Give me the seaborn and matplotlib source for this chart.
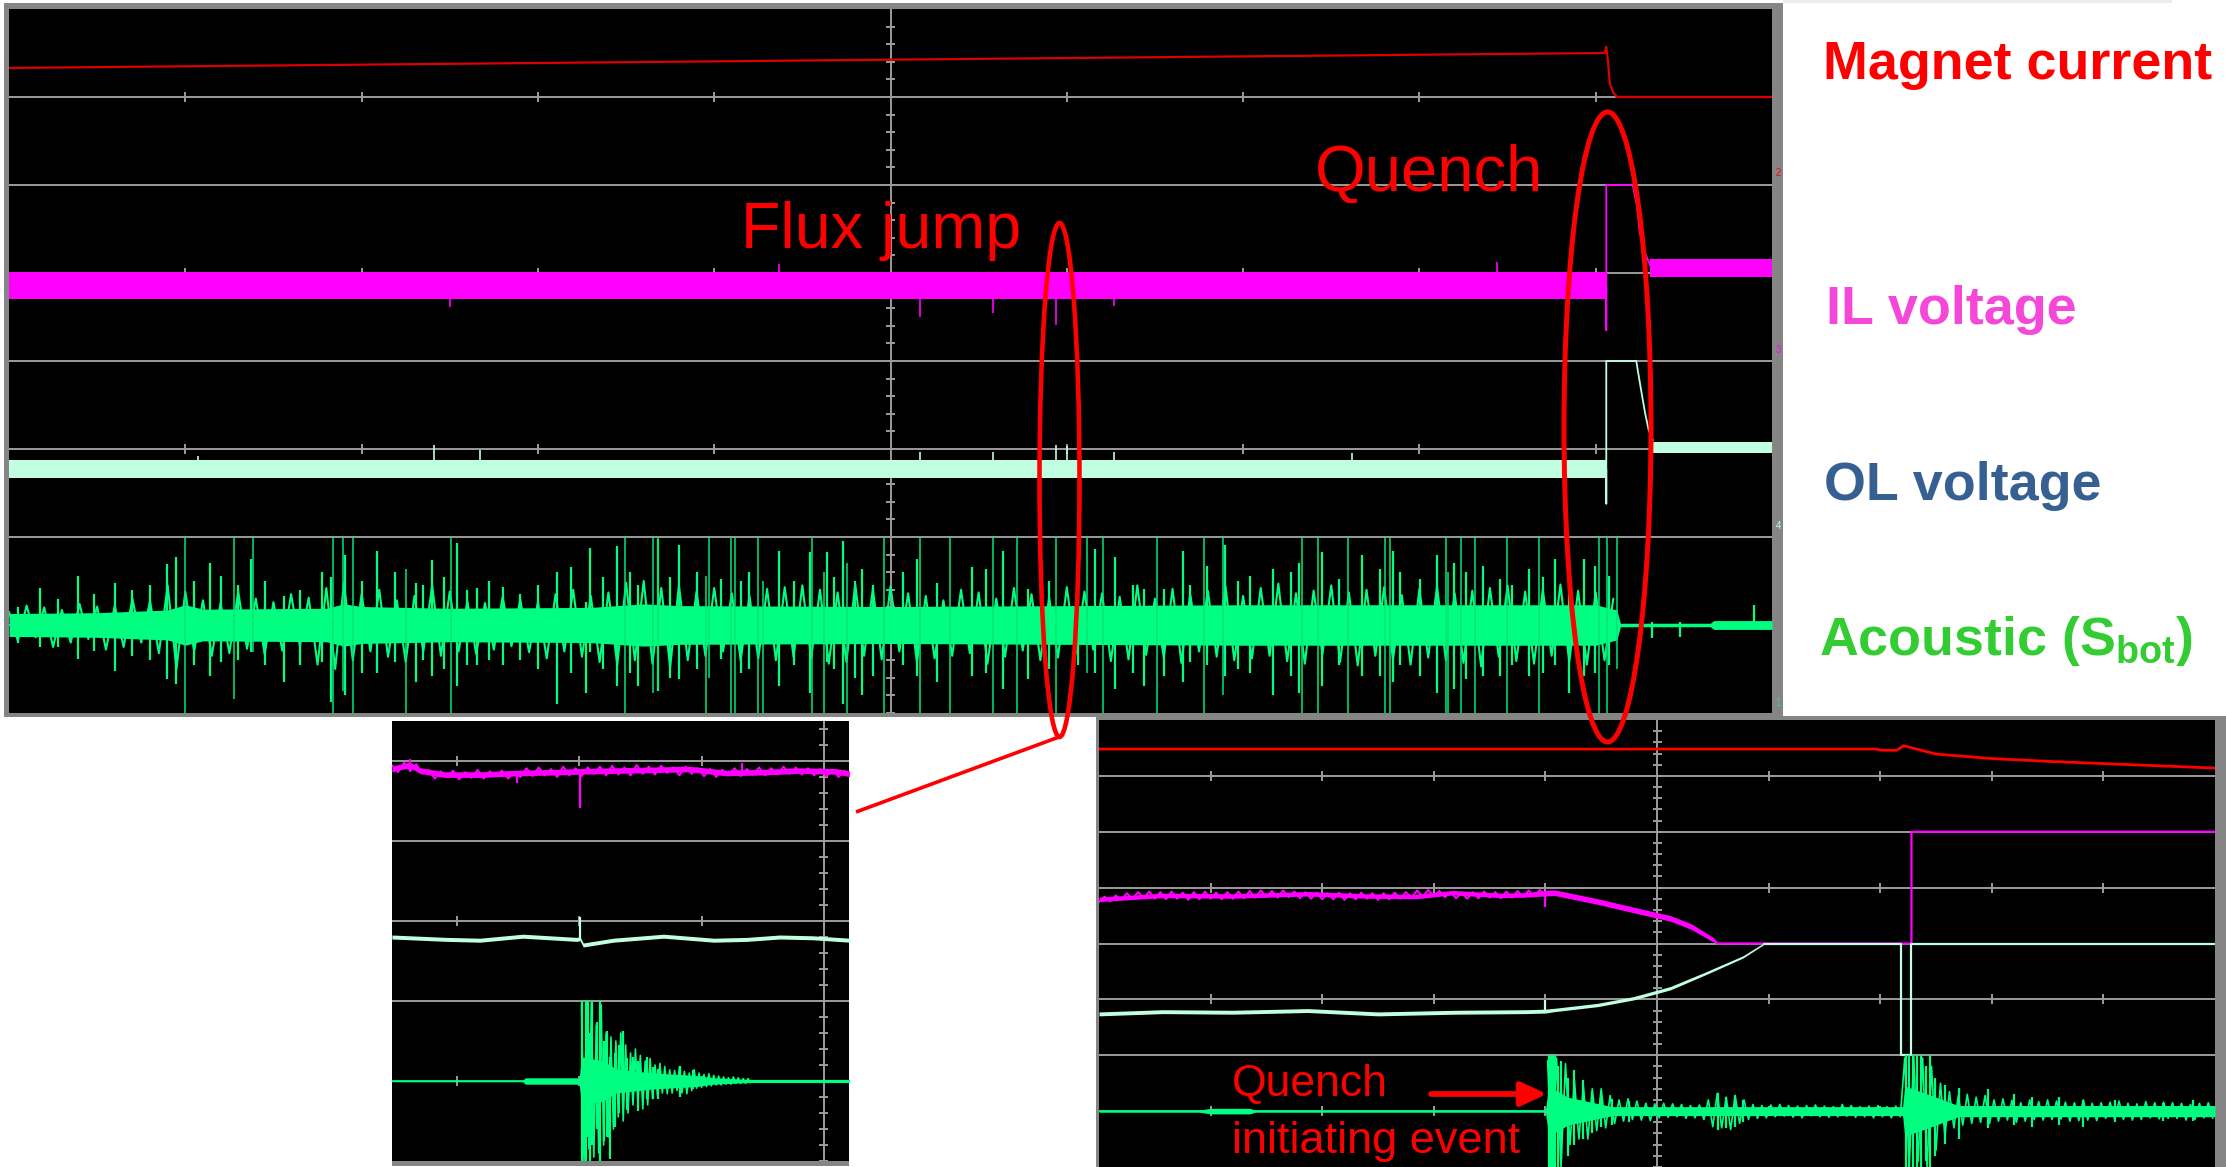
import matplotlib
matplotlib.use("Agg")
import numpy as np
import matplotlib.pyplot as plt
from matplotlib.patches import Rectangle, Ellipse
import seaborn as sns

sns.set_theme(style="white")
plt.rcParams["font.family"] = ["Liberation Sans", "DejaVu Sans"]
plt.rcParams["mathtext.fontset"] = "custom"
plt.rcParams["mathtext.rm"] = "Liberation Sans:bold"
plt.rcParams["mathtext.bf"] = "Liberation Sans:bold"

W, H = 2226, 1167

# ---------------------------------------------------------------
# Main record (10 x 8 divisions)
# ---------------------------------------------------------------
main_current_x = [0.00, 9.05, 9.06, 9.07, 9.08, 9.10, 9.12, 10.00]
main_current_y = [7.33, 7.50, 7.57, 7.40, 7.15, 7.05, 7.00, 7.00]

main_il_band_x = [0.00, 9.06]
main_il_band_lo = [4.70, 4.70]
main_il_band_hi = [5.01, 5.01]
main_il_quench_x = [9.06, 9.06, 9.06, 9.21, 9.235, 9.25, 9.28, 9.31]
main_il_quench_y = [4.85, 4.35, 6.00, 6.00, 5.75, 5.45, 5.23, 5.08]
main_il_after_x = [9.31, 10.00]
main_il_after_lo = [4.95, 4.95]
main_il_after_hi = [5.16, 5.16]
main_il_spike_x = [2.50, 4.37, 5.17, 5.58, 5.94, 6.27, 8.44]
main_il_spike_y = [4.61, 5.10, 4.50, 4.54, 4.41, 4.62, 5.12]

main_ol_band_x = [0.00, 9.06]
main_ol_band_lo = [2.67, 2.67]
main_ol_band_hi = [2.875, 2.875]
main_ol_quench_x = [9.06, 9.06, 9.06, 9.23, 9.26, 9.28, 9.30, 9.325]
main_ol_quench_y = [2.77, 2.38, 4.00, 4.00, 3.64, 3.41, 3.22, 3.10]
main_ol_after_x = [9.325, 10.00]
main_ol_after_lo = [2.96, 2.96]
main_ol_after_hi = [3.08, 3.08]
main_ol_spike_x = [1.07, 2.41, 2.67, 5.17, 5.58, 5.94, 6.00, 6.27, 7.62]
main_ol_spike_y = [2.92, 3.05, 2.99, 2.97, 2.97, 3.05, 3.03, 2.97, 2.95]

main_ac_core_x = [0.0, 0.5, 0.9, 1.0, 1.1, 1.8, 1.9, 2.0, 2.5, 3.3, 3.6, 3.8, 5.0,
                  6.0, 7.0, 8.0, 9.0, 9.12, 9.14, 9.65, 9.67, 10.0]
main_ac_core_amp = [0.13, 0.14, 0.17, 0.23, 0.18, 0.19, 0.24, 0.21, 0.19, 0.20, 0.24,
                    0.22, 0.21, 0.22, 0.23, 0.23, 0.23, 0.17, 0.02, 0.02, 0.05, 0.05]

# acoustic samples, one every 0.05 div from 0.00 to 9.10 (offset from trace baseline)
main_ac_wave_start, main_ac_wave_step = 0.0, 0.05
main_ac_wave = [
    0.15, -0.18, 0.22, -0.14, 0.20, -0.25, 0.17, -0.20, 0.24, -0.16, 0.21,
    -0.28, 0.22, -0.25, 0.30, -0.20, 0.27, -0.32,
    0.45, -0.50, 0.38,
    -0.30, 0.28, -0.35, 0.25, -0.32, 0.38, -0.27, 0.30, -0.33, 0.26, -0.29, 0.35, -0.24, 0.31,
    -0.45, 0.42, -0.50, 0.48, -0.40,
    0.35, -0.30, 0.40, -0.36, 0.28, -0.42, 0.33, -0.30, 0.45, -0.35, 0.38,
    -0.30, 0.27, -0.33, 0.25, -0.28, 0.32, -0.24, 0.29, -0.31, 0.26,
    -0.38, 0.35, -0.30, 0.40, -0.36, 0.33, -0.42, 0.37,
    -0.45, 0.48, -0.40, 0.50, -0.44, 0.42, -0.48, 0.45, -0.40,
    0.38, -0.35, 0.42, -0.30, 0.36, -0.40, 0.33, -0.38, 0.41,
    -0.40, 0.43, -0.36, 0.45, -0.38, 0.40, -0.44, 0.37, -0.42, 0.46, -0.35, 0.41, -0.39, 0.44,
    -0.30, 0.36, -0.42, 0.33, -0.38, 0.28, -0.35, 0.40, -0.32, 0.37,
    -0.44, 0.30, -0.36, 0.42, -0.29, 0.35, -0.40, 0.31, -0.37, 0.43,
    -0.33, 0.38, -0.28, 0.36, -0.41, 0.32, -0.39, 0.45, -0.34, 0.30,
    -0.37, 0.41, -0.43, 0.35, -0.30, 0.39, -0.36, 0.44, -0.40, 0.33,
    -0.38, 0.42, -0.35, 0.47, -0.41, 0.36, -0.44, 0.39, -0.33, 0.45,
    -0.42, 0.37, -0.46, 0.40, -0.35, 0.43, -0.39, 0.34, -0.45, 0.41,
    -0.37, 0.44, -0.40, 0.36, -0.43, 0.39, -0.47, 0.42, -0.36, 0.45,
    -0.41, 0.38, -0.44, 0.40, -0.35, 0.46, -0.42, 0.39, -0.45, 0.37,
    -0.40, 0.30,
]

# saturated hits of the acoustic channel
main_ac_clip_x = [0.997, 1.274, 1.385, 1.838, 1.893, 1.951, 2.254, 2.505, 3.495, 3.655,
                  3.684, 3.954, 3.970, 4.094, 4.117, 4.247, 4.279, 4.553, 4.625, 4.755,
                  4.963, 5.168, 5.337, 5.579, 5.715, 5.940, 6.116, 6.204, 6.510, 6.781,
                  6.888, 7.335, 7.423, 7.595, 7.807, 7.836, 8.149, 8.165, 8.234, 8.318,
                  8.498, 8.677, 9.019, 9.065, 9.120]
main_ac_clip_hi = [2.0, 2.0, 2.0, 2.0, 2.0, 2.0, 1.64, 2.0, 2.0, 2.0,
                   2.0, 1.56, 2.0, 2.0, 2.0, 2.0, 1.50, 2.0, 1.60, 1.70,
                   2.0, 2.0, 2.0, 2.0, 2.0, 2.0, 2.0, 2.0, 2.0, 2.0,
                   2.0, 2.0, 2.0, 2.0, 2.0, 2.0, 2.0, 1.60, 2.0, 2.0,
                   2.0, 2.0, 2.0, 2.0, 2.0]
main_ac_clip_lo = [0.0, 0.16, 0.69, 0.0, 0.25, 0.0, 0.0, 0.0, 0.0, 0.23,
                   0.30, 0.0, 0.40, 0.0, 0.0, 0.0, 0.0, 0.0, 0.0, 0.0,
                   0.0, 0.0, 0.0, 0.0, 0.0, 0.0, 0.45, 0.0, 0.0, 0.0,
                   0.20, 0.0, 0.0, 0.0, 0.0, 0.0, 0.0, 0.0, 0.0, 0.0,
                   0.0, 0.0, 0.0, 0.0, 0.50]

main_ac_spike_x = [0.05, 0.177, 0.28, 0.389, 0.48, 0.601, 0.70, 0.80, 0.894, 0.949,
                   1.05, 1.138, 1.203, 1.30, 1.373, 1.45, 1.562, 1.65, 1.773, 1.826,
                   1.904, 2.00, 2.086, 2.19, 2.311, 2.35, 2.399, 2.47, 2.539, 2.60,
                   2.653, 2.72, 2.80, 2.90, 3.00, 3.109, 3.19, 3.272, 3.295, 3.37,
                   3.451, 3.52, 3.565, 3.679, 3.75, 3.803, 3.90, 4.038, 4.15, 4.20,
                   4.367, 4.45, 4.543, 4.64, 4.68, 4.728, 4.80, 4.836, 4.901,
                   5.07, 5.152, 5.266, 5.461, 5.543, 5.64, 5.781, 5.90, 6.064, 6.162,
                   6.276, 6.374, 6.439, 6.553, 6.66, 6.699, 6.797, 6.895, 6.97, 7.041,
                   7.172, 7.269, 7.318, 7.449, 7.546, 7.677, 7.774, 7.85, 7.888, 8.002,
                   8.10, 8.198, 8.263, 8.361, 8.459, 8.524, 8.622, 8.70, 8.768, 8.85,
                   8.931, 8.996, 9.078, 9.32, 9.48, 9.90]
main_ac_spike_hi = [1.20, 1.42, 1.30, 1.56, 1.35, 1.48, 1.40, 1.45, 1.69, 1.77,
                    1.50, 1.71, 1.56, 1.45, 1.75, 1.50, 1.33, 1.40, 1.60, 1.55,
                    1.79, 1.50, 1.84, 1.60, 1.48, 1.45, 1.74, 1.55, 1.93, 1.40,
                    1.42, 1.50, 1.43, 1.35, 1.45, 1.60, 1.66, 1.26, 1.87, 1.55,
                    1.90, 1.60, 1.45, 1.98, 1.55, 1.91, 1.60, 1.52, 1.50, 1.60,
                    1.84, 1.50, 1.83, 1.83, 1.55, 1.95, 1.50, 1.64, 1.45,
                    1.60, 1.75, 1.48, 1.66, 1.64, 1.84, 1.41, 1.50, 1.45, 1.86,
                    1.77, 1.45, 1.41, 1.41, 1.84, 1.45, 1.67, 1.91, 1.50, 1.56,
                    1.64, 1.60, 1.71, 1.83, 1.52, 1.79, 1.64, 1.84, 1.60, 1.52,
                    1.79, 1.71, 1.60, 1.67, 1.52, 1.45, 1.64, 1.55, 1.75, 1.83,
                    1.75, 1.67, 1.56, 1.03, 1.03, 1.23]
main_ac_spike_lo = [0.80, 0.75, 0.75, 0.61, 0.70, 0.48, 0.65, 0.60, 0.39, 0.33,
                    0.55, 0.42, 0.58, 0.60, 0.69, 0.55, 0.35, 0.55, 0.58, 0.13,
                    0.20, 0.45, 0.46, 0.58, 0.35, 0.60, 0.42, 0.50, 0.31, 0.55,
                    0.54, 0.60, 0.54, 0.60, 0.50, 0.10, 0.46, 0.23, 0.69, 0.50,
                    0.31, 0.45, 0.31, 0.25, 0.40, 0.39, 0.50, 0.61, 0.45, 0.50,
                    0.31, 0.55, 0.23, 0.58, 0.50, 0.10, 0.40, 0.20, 0.42,
                    0.54, 0.42, 0.35, 0.42, 0.46, 0.27, 0.39, 0.50, 0.54, 0.46,
                    0.27, 0.46, 0.31, 0.42, 0.35, 0.58, 0.54, 0.42, 0.50, 0.46,
                    0.20, 0.42, 0.23, 0.31, 0.54, 0.42, 0.42, 0.35, 0.54, 0.42,
                    0.23, 0.27, 0.39, 0.42, 0.42, 0.54, 0.42, 0.45, 0.54, 0.23,
                    0.42, 0.46, 0.54, 0.85, 0.86, 0.97]

# ---------------------------------------------------------------
# Flux-jump detail (left inset)
# ---------------------------------------------------------------
fj_il_x = [0.47, 0.55, 0.62, 0.70, 0.90, 1.20, 1.50, 1.80, 2.00, 2.30, 2.60, 2.90,
           3.20, 3.50, 3.80, 4.10, 4.21]
fj_il_y = [4.90, 4.93, 4.95, 4.88, 4.83, 4.83, 4.85, 4.86, 4.87, 4.88, 4.89, 4.90,
           4.85, 4.86, 4.88, 4.87, 4.84]
# IL samples, one every 0.05 div from 0.47
fj_il_wave_start, fj_il_wave_step = 0.47, 0.05
fj_il_wave = [
    4.95, 4.86, 4.98, 4.88, 4.96, 4.84,
    4.89, 4.78, 4.87, 4.80, 4.88, 4.77, 4.86, 4.79, 4.89, 4.78, 4.87, 4.81, 4.88, 4.78, 4.86,
    4.80, 4.91, 4.81, 4.92, 4.82, 4.90, 4.80, 4.93, 4.82, 4.91, 4.81, 4.92, 4.84, 4.93, 4.82,
    4.94, 4.83, 4.92, 4.82, 4.95, 4.84, 4.93, 4.83, 4.94, 4.85, 4.92, 4.82, 4.93, 4.84, 4.91,
    4.81, 4.90, 4.80, 4.89, 4.82, 4.91, 4.81, 4.90, 4.83, 4.92, 4.82, 4.91, 4.83, 4.93, 4.84,
    4.92, 4.83, 4.91, 4.82, 4.90, 4.81, 4.89, 4.80, 4.88,
]
fj_il_spike_x = [0.62, 1.49, 2.01, 3.33]
fj_il_spike_y = [5.02, 4.73, 4.41, 4.97]

fj_ol_x = [0.47, 0.92, 1.19, 1.54, 1.98, 2.007, 2.034, 2.28, 2.69, 3.10, 3.37, 3.64,
           3.91, 4.21]
fj_ol_y = [2.80, 2.77, 2.76, 2.81, 2.77, 2.78, 2.70, 2.76, 2.81, 2.76, 2.77, 2.80,
           2.79, 2.76]
fj_ol_spike_x = [2.007]
fj_ol_spike_y = [3.05]

fj_ac_core_x = [0.47, 1.54, 1.56, 2.00, 2.02, 2.20, 2.30, 2.60, 2.95, 3.10, 3.37, 4.21]
fj_ac_core_amp = [0.01, 0.01, 0.04, 0.04, 0.30, 0.25, 0.15, 0.10, 0.07, 0.04, 0.02, 0.02]
# acoustic samples, one every 0.02 div from 2.02 to 3.40
fj_ac_wave_start, fj_ac_wave_step = 2.02, 0.02
fj_ac_wave = [
    0.95, -1.00, 0.90, -0.85, 0.98, -0.95, 0.70, -0.90, 0.95, -0.80,
    0.60, -0.70, 0.55, -0.60, 0.50, -0.45, 0.60, -0.50, 0.45, -0.40,
    0.35, -0.30, 0.40, -0.28, 0.32, -0.35, 0.25, -0.30, 0.28, -0.22,
    0.20, -0.18, 0.22, -0.15, 0.18, -0.16, 0.14, -0.15, 0.13, -0.12,
    0.18, -0.15, 0.12, -0.16, 0.10, -0.12, 0.14, -0.09, 0.10, -0.08,
    0.08, -0.07, 0.09, -0.06, 0.07, -0.05, 0.06, -0.05, 0.05, -0.04,
    0.04, -0.04, 0.05, -0.03, 0.04, -0.03, 0.03, -0.03, 0.03, -0.02,
]
fj_ac_spike_x = [2.021, 2.054, 2.070, 2.089, 2.108, 2.144, 2.171, 2.200, 2.225, 2.252,
                 2.293, 2.329, 2.356, 2.389, 2.443, 2.484, 2.552, 2.606, 2.647, 2.824,
                 2.933]
fj_ac_spike_hi = [2.00, 2.00, 2.00, 1.60, 2.00, 1.74, 2.00, 1.50, 1.62, 1.30,
                  1.35, 1.45, 1.62, 1.29, 1.30, 1.25, 1.30, 1.18, 1.15, 1.19,
                  1.14]
fj_ac_spike_lo = [0.00, 0.00, 0.30, 0.00, 0.20, 0.40, 0.00, 0.25, 0.30, 0.02,
                  0.42, 0.60, 0.68, 0.64, 0.77, 0.63, 0.77, 0.78, 0.78, 0.80,
                  0.90]

# ---------------------------------------------------------------
# Quench detail (right inset, 10 x 8 divisions)
# ---------------------------------------------------------------
qd_current_x = [0.00, 6.97, 7.00, 7.15, 7.21, 7.50, 8.00, 8.50, 9.00, 9.50, 10.00]
qd_current_y = [7.48, 7.48, 7.46, 7.46, 7.54, 7.39, 7.31, 7.26, 7.22, 7.18, 7.14]

qd_il_x = [0.00, 0.57, 1.20, 1.87, 2.40, 2.84, 3.17, 3.60, 3.82, 4.00, 4.08, 4.47,
           4.79, 5.12, 5.31, 5.51]
qd_il_y = [4.79, 4.86, 4.85, 4.89, 4.85, 4.84, 4.91, 4.86, 4.87, 4.90, 4.91, 4.75,
           4.60, 4.45, 4.30, 4.06]
qd_il_half = [0.04, 0.04, 0.04, 0.04, 0.04, 0.04, 0.04, 0.04, 0.04, 0.05, 0.05, 0.05,
              0.05, 0.05, 0.05, 0.04]
# IL samples, one every 0.05 div from 0.00 to 4.00
qd_il_wave_start, qd_il_wave_step = 0.0, 0.05
qd_il_wave = [
    4.74, 4.84, 4.75, 4.86, 4.78, 4.90, 4.80, 4.92, 4.81, 4.93, 4.80,
    4.92, 4.79, 4.93, 4.80, 4.91, 4.78, 4.92, 4.79, 4.93, 4.80,
    4.91, 4.79, 4.92, 4.80, 4.93, 4.81, 4.94, 4.82, 4.95, 4.83,
    4.94, 4.82, 4.95, 4.83, 4.93, 4.81, 4.92, 4.80, 4.91, 4.79,
    4.90, 4.79, 4.91, 4.78, 4.90, 4.79, 4.91, 4.80, 4.90, 4.78,
    4.90, 4.79, 4.91, 4.80, 4.92, 4.82, 4.95, 4.84, 4.96, 4.85,
    4.94, 4.83, 4.92, 4.81, 4.91, 4.80, 4.92, 4.81, 4.93, 4.82,
    4.92, 4.81, 4.93, 4.82, 4.94, 4.83, 4.95, 4.84, 4.96, 4.85,
]
qd_il_step_x = [5.51, 5.54, 7.28, 7.28, 10.00]
qd_il_step_y = [4.06, 4.00, 4.00, 6.00, 6.00]
qd_il_spike_x = [4.00]
qd_il_spike_y = [4.66]

qd_ol_x = [0.00, 0.57, 1.20, 1.87, 2.50, 3.20, 3.82, 4.00, 4.08, 4.47, 4.79, 5.12,
           5.44, 5.77, 5.96]
qd_ol_y = [2.74, 2.78, 2.77, 2.80, 2.74, 2.77, 2.78, 2.79, 2.81, 2.90, 3.02, 3.20,
           3.47, 3.76, 4.00]
qd_ol_half = [0.035, 0.035, 0.035, 0.035, 0.035, 0.035, 0.035, 0.035, 0.03, 0.03,
              0.03, 0.03, 0.025, 0.02, 0.015]
qd_ol_step_x = [5.96, 7.19, 7.19, 7.28, 7.28, 10.00]
qd_ol_step_y = [4.00, 4.00, 2.00, 2.00, 4.00, 4.00]
qd_ol_spike_x = [4.00]
qd_ol_spike_y = [2.99]

qd_ac_core_x = [0.0, 0.9, 1.0, 1.35, 1.4, 4.0, 4.03, 4.2, 4.6, 7.2, 7.22, 7.5, 7.7, 10.0]
qd_ac_core_amp = [0.02, 0.02, 0.05, 0.05, 0.02, 0.02, 0.45, 0.25, 0.08, 0.08, 0.45,
                  0.25, 0.10, 0.10]
# acoustic samples, one every 0.04 div from 4.02 to 9.98
qd_ac_wave_start, qd_ac_wave_step = 4.02, 0.04
qd_ac_wave = [
    0.90, -1.00, 0.95, -1.00, 0.85,
    -0.60, 0.55, -0.50, 0.45, -0.50, 0.40, -0.35, 0.40, -0.30, 0.28,
    -0.22, 0.20, -0.18, 0.22, -0.15, 0.18, -0.16, 0.14, -0.17, 0.13,
    -0.12, 0.14, -0.11, 0.13, -0.10, 0.12, -0.13, 0.10, -0.12, 0.11,
    -0.15, 0.20, -0.28, 0.32, -0.30, 0.25, -0.33, 0.28, -0.22, 0.20,
    -0.15, 0.12, -0.13, 0.10, -0.12, 0.11, -0.10, 0.12, -0.09, 0.10,
    -0.11, 0.09, -0.12, 0.10, -0.08, 0.11, -0.10, 0.09, -0.11, 0.08,
    -0.10, 0.12, -0.09, 0.10, -0.11, 0.08, -0.10, 0.09, -0.12, 0.10,
    -0.10, 0.08, -0.12, 0.09, -0.10,
    0.95, -1.00, 1.00, -0.90, 0.95, -1.00, 0.80, -0.70, 0.50, -0.45,
    0.35, -0.30, 0.28, -0.25, 0.30, -0.22, 0.25, -0.20, 0.28, -0.22,
    0.20, -0.18, 0.22, -0.16, 0.19, -0.20, 0.15, -0.18, 0.20, -0.15,
    0.17, -0.16, 0.20, -0.15, 0.18, -0.14, 0.16, -0.18, 0.15, -0.17,
    0.20, -0.16, 0.14, -0.17, 0.15, -0.13, 0.16, -0.14, 0.18, -0.15,
    0.14, -0.16, 0.13, -0.15, 0.17, -0.12, 0.15, -0.14, 0.16, -0.13,
    0.15, -0.13, 0.14, -0.16, 0.12, -0.15, 0.14, -0.12, 0.15, -0.13,
]
qd_ac_spike_x = [4.03, 4.05, 4.07, 4.09, 4.11, 4.14, 4.20, 4.26, 4.34, 4.42, 4.50,
                 4.60, 4.75, 5.55, 5.62, 5.70, 5.77, 7.23, 7.26, 7.29, 7.33, 7.37,
                 7.41, 7.45, 7.49, 7.58, 7.71, 7.97, 8.20, 8.36, 8.60, 8.82, 9.10,
                 9.53, 9.80]
qd_ac_spike_hi = [2.00, 2.00, 2.00, 2.00, 1.80, 1.90, 1.60, 1.74, 1.56, 1.35, 1.26,
                  1.22, 1.18, 1.32, 1.25, 1.28, 1.20, 2.00, 2.00, 2.00, 2.00, 2.00,
                  1.80, 2.00, 1.60, 1.46, 1.42, 1.40, 1.30, 1.26, 1.25, 1.20, 1.20,
                  1.14, 1.20]
qd_ac_spike_lo = [-0.2, -0.2, 0.00, -0.2, -0.2, 0.10, 0.20, 0.40, 0.50, 0.60, 0.72,
                  0.75, 0.80, 0.66, 0.70, 0.72, 0.80, -0.2, -0.2, -0.2, 0.00, -0.2,
                  0.10, -0.2, 0.20, 0.42, 0.50, 0.70, 0.75, 0.72, 0.75, 0.72, 0.80,
                  0.82, 0.82]

# ---------------------------------------------------------------
# Annotation text
# ---------------------------------------------------------------
channel_names = ["Magnet current", "IL voltage", "OL voltage",
                 r"Acoustic (S$_{\mathbf{bot}}$)"]
channel_colors = ["#ff0000", "#f548d8", "#376092", "#33cc33"]

RED_TR = "#dd0000"
RED = "#ff0000"
MAG = "#ff00ff"
MINT = "#c0ffe0"
ACU = "#00ff80"
GRID = "#9c9c9c"
FRAME = "#858585"

fig = plt.figure(figsize=(W / 100, H / 100), dpi=100)
fig.patch.set_facecolor("white")


def px_axes(x0, y0, x1, y1, z=1):
    return fig.add_axes([x0 / W, 1 - y1 / H, (x1 - x0) / W, (y1 - y0) / H], zorder=z)


def px_rect(x0, y0, x1, y1, color):
    fig.add_artist(Rectangle((x0 / W, 1 - y1 / H), (x1 - x0) / W, (y1 - y0) / H,
                             transform=fig.transFigure, facecolor=color,
                             edgecolor="none", zorder=-5))


def scope(ax, xlim, ylim, levels, tick_levels, tick_x, cx, ppx, ppy):
    ax.set_facecolor("black")
    ax.set_xlim(*xlim)
    ax.set_ylim(*ylim)
    ax.set_xticks([])
    ax.set_yticks([])
    for s in ax.spines.values():
        s.set_visible(False)
    for lv in levels:
        ax.axhline(lv, color=GRID, lw=1.4, zorder=1)
    ax.axvline(cx, color=GRID, lw=1.4, zorder=1)
    for lv in tick_levels:
        ax.vlines(tick_x, lv - 5 / ppy, lv + 5 / ppy, color=GRID, lw=1.4, zorder=1)
    minor = np.arange(np.ceil(ylim[0] * 5) / 5, ylim[1], 0.2)
    ax.hlines(minor, cx - 4.5 / ppx, cx + 4.5 / ppx, color=GRID, lw=1.4, zorder=1)


def trace(ax, x, y, color, lw, z=3):
    sns.lineplot(x=x, y=y, ax=ax, color=color, lw=lw, estimator=None, sort=False,
                 legend=False, zorder=z)


def sampled(start, step, vals):
    return start + step * np.arange(len(vals))


def acoustic(ax, cx, camp, sx, shi, slo, wave, clip=None, wave_lw=1.2):
    lo = [1 - a for a in camp]
    hi = [1 + a for a in camp]
    ax.fill_between(cx, lo, hi, color=ACU, lw=0, zorder=4)
    trace(ax, [cx[0], cx[-1]], [1, 1], ACU, 1.2, z=4)
    start, step, vals = wave
    trace(ax, sampled(start, step, vals), [1 + v for v in vals], ACU, wave_lw, z=4)
    ax.vlines(sx, slo, shi, color=ACU, lw=1.6, zorder=4)
    if clip is not None:
        ax.vlines(clip[0], clip[2], clip[1], color="#00e676", lw=1.1, zorder=4)


def spikes(ax, x, base, end, color, lw=1.2):
    ax.vlines(x, [min(base, e) for e in end], [max(base, e) for e in end],
              color=color, lw=lw, zorder=3)


# frames
px_rect(4, 3, 1783, 717, FRAME)
px_rect(392, 721, 849, 1166, FRAME)
px_rect(1096, 716, 2226, 1167, FRAME)
px_rect(1783, 0, 2172, 3, "#ececec")

# ---------------- main record ----------------
ax_m = px_axes(9, 9, 1772, 713)
scope(ax_m, (0, 10), (0, 8), [1, 2, 3, 4, 5, 6, 7], [1, 3, 5, 7],
      [1, 2, 3, 4, 6, 7, 8, 9], 5.0, 176.3, 88.0)
trace(ax_m, main_current_x, main_current_y, RED_TR, 1.6)
ax_m.fill_between(main_il_band_x, main_il_band_lo, main_il_band_hi, color=MAG, lw=0, zorder=3)
ax_m.fill_between(main_il_after_x, main_il_after_lo, main_il_after_hi, color=MAG, lw=0, zorder=3)
trace(ax_m, main_il_quench_x, main_il_quench_y, MAG, 1.3)
spikes(ax_m, main_il_spike_x, 4.85, main_il_spike_y, MAG)
ax_m.fill_between(main_ol_band_x, main_ol_band_lo, main_ol_band_hi, color=MINT, lw=0, zorder=3)
ax_m.fill_between(main_ol_after_x, main_ol_after_lo, main_ol_after_hi, color=MINT, lw=0, zorder=3)
trace(ax_m, main_ol_quench_x, main_ol_quench_y, MINT, 1.3)
spikes(ax_m, main_ol_spike_x, 2.77, main_ol_spike_y, MINT)
acoustic(ax_m, main_ac_core_x, main_ac_core_amp, main_ac_spike_x, main_ac_spike_hi,
         main_ac_spike_lo, (main_ac_wave_start, main_ac_wave_step, main_ac_wave),
         clip=(main_ac_clip_x, main_ac_clip_hi, main_ac_clip_lo), wave_lw=1.5)

# ---------------- flux-jump detail ----------------
ax_f = px_axes(392, 721, 849, 1161)
scope(ax_f, (0.471, 4.205), (0, 5.5), [2, 3, 4, 5], [1, 3, 5], [1, 2, 3], 4.0,
      122.4, 80.0)
ax_f.fill_between(fj_il_x, [v - 0.035 for v in fj_il_y], [v + 0.035 for v in fj_il_y],
                  color=MAG, lw=0, zorder=3)
trace(ax_f, sampled(fj_il_wave_start, fj_il_wave_step, fj_il_wave), fj_il_wave, MAG, 1.4)
spikes(ax_f, fj_il_spike_x, 4.86, fj_il_spike_y, MAG, lw=1.6)
ax_f.fill_between(fj_ol_x, [v - 0.025 for v in fj_ol_y], [v + 0.025 for v in fj_ol_y],
                  color=MINT, lw=0, zorder=3)
spikes(ax_f, fj_ol_spike_x, 2.78, fj_ol_spike_y, MINT, lw=1.6)
acoustic(ax_f, fj_ac_core_x, fj_ac_core_amp, fj_ac_spike_x, fj_ac_spike_hi, fj_ac_spike_lo,
         (fj_ac_wave_start, fj_ac_wave_step, fj_ac_wave))

# ---------------- quench detail ----------------
ax_q = px_axes(1099, 720, 2215, 1167)
scope(ax_q, (0, 10), (0, 8), [2, 3, 4, 5, 6, 7], [1, 3, 5, 7],
      [1, 2, 3, 4, 6, 7, 8, 9], 5.0, 111.6, 55.9)
trace(ax_q, qd_current_x, qd_current_y, RED, 2.0)
ax_q.fill_between(qd_il_x, [v - h for v, h in zip(qd_il_y, qd_il_half)],
                  [v + h for v, h in zip(qd_il_y, qd_il_half)], color=MAG, lw=0, zorder=3)
trace(ax_q, sampled(qd_il_wave_start, qd_il_wave_step, qd_il_wave), qd_il_wave, MAG, 1.4)
trace(ax_q, qd_il_step_x, qd_il_step_y, MAG, 1.6)
spikes(ax_q, qd_il_spike_x, 4.88, qd_il_spike_y, MAG, lw=1.6)
ax_q.fill_between(qd_ol_x, [v - h for v, h in zip(qd_ol_y, qd_ol_half)],
                  [v + h for v, h in zip(qd_ol_y, qd_ol_half)], color=MINT, lw=0, zorder=3)
trace(ax_q, qd_ol_step_x, qd_ol_step_y, MINT, 1.6)
spikes(ax_q, qd_ol_spike_x, 2.79, qd_ol_spike_y, MINT, lw=1.6)
acoustic(ax_q, qd_ac_core_x, qd_ac_core_amp, qd_ac_spike_x, qd_ac_spike_hi, qd_ac_spike_lo,
         (qd_ac_wave_start, qd_ac_wave_step, qd_ac_wave))

# ---------------- annotation layer (pixel coordinates) ----------------
ov = fig.add_axes([0, 0, 1, 1], zorder=10)
ov.set_xlim(0, W)
ov.set_ylim(H, 0)
ov.axis("off")

ov.add_patch(Ellipse((1059.5, 480), 40, 514, fill=False, edgecolor=RED, lw=3.3))
ov.add_patch(Ellipse((1607.5, 427), 87, 630, fill=False, edgecolor=RED, lw=3.6))
ov.plot([1059, 856], [737, 812], color=RED, lw=2.6, solid_capstyle="butt")

ov.text(741, 248, "Flux jump", color=RED, fontsize=46.5, ha="left", va="baseline")
ov.text(1315, 191, "Quench", color=RED, fontsize=47, ha="left", va="baseline")
ov.text(1232, 1096, "Quench", color=RED, fontsize=32, ha="left", va="baseline")
ov.text(1232, 1153, "initiating event", color=RED, fontsize=32.5, ha="left", va="baseline")
ov.annotate("", xy=(1547, 1094), xytext=(1431, 1094),
            arrowprops=dict(arrowstyle="-|>,head_length=1.3,head_width=0.6",
                            color=RED, lw=4.1, shrinkA=0, shrinkB=0))

label_x = [1823, 1826, 1824, 1819]
label_base = [79, 324, 500, 655]
for name, col, lx, ly in zip(channel_names, channel_colors, label_x, label_base):
    ov.text(lx, ly, name, color=col, fontsize=38.8, fontweight="bold",
            ha="left", va="baseline")

# channel markers on the right edge of the main record
for txt, col, yy in zip(["2", "3", "4", "1"], [RED, MAG, MINT, "#40d080"],
                        [173, 350, 526, 703]):
    ov.text(1778, yy, txt, color=col, fontsize=7, ha="center", va="center")

fig.savefig("out.png", dpi=100, facecolor="white")
